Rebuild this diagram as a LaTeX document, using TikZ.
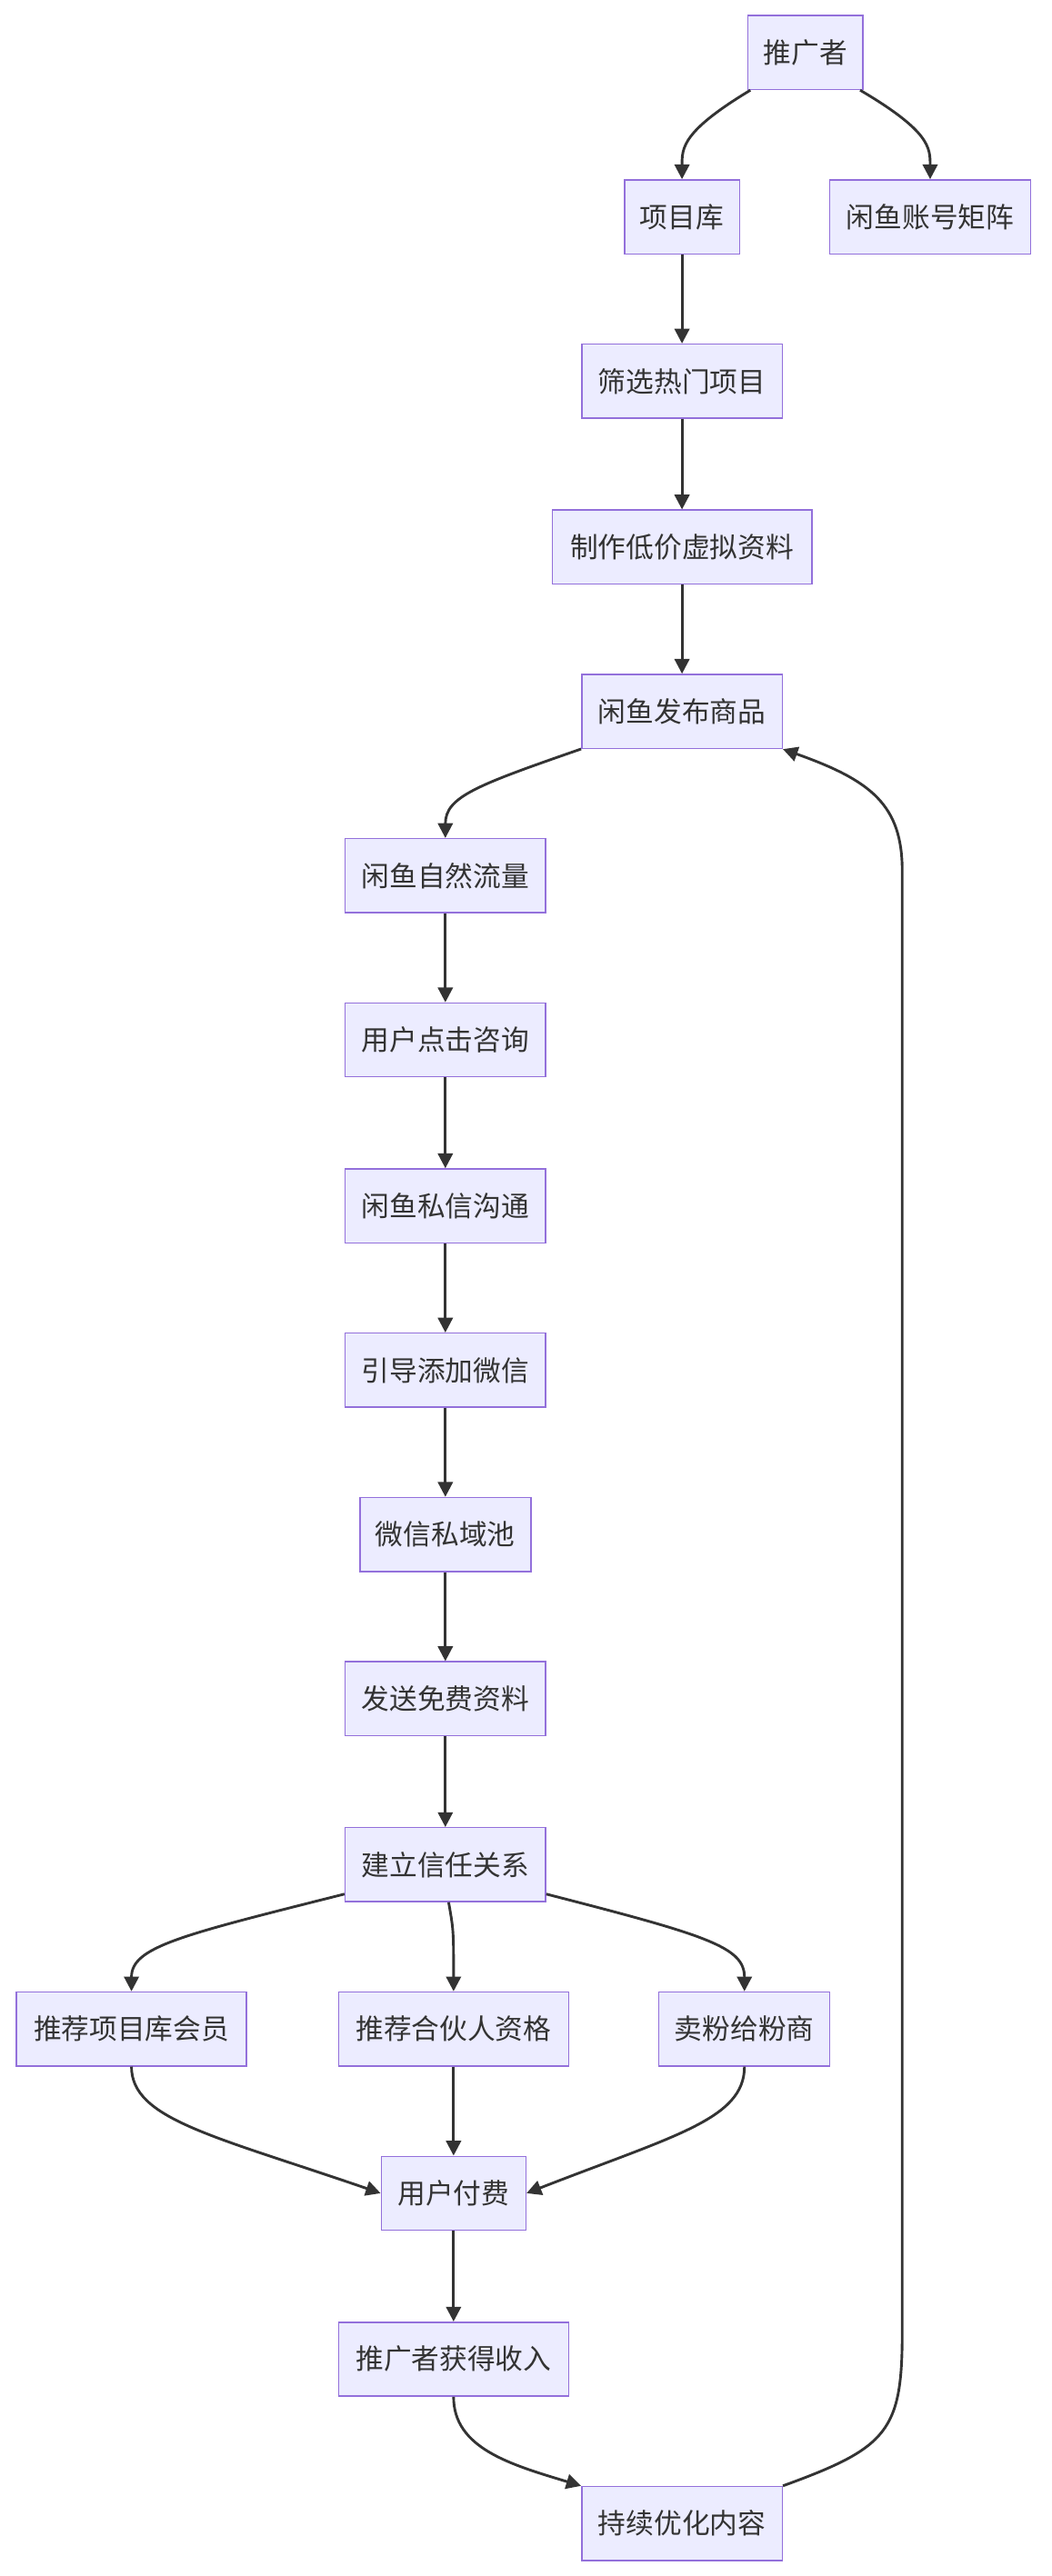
\documentclass[tikz,border=0pt]{standalone}
\usepackage{fontspec}
\newfontfamily\cjk{Noto Sans CJK SC}
\usetikzlibrary{arrows.meta}
\definecolor{nfill}{HTML}{ECECFF}
\definecolor{nline}{HTML}{9370DB}
\definecolor{aline}{HTML}{333333}
\begin{document}
\begin{tikzpicture}[x=1pt,y=-1pt,
  box/.style={draw=nline,fill=nfill,line width=0.8pt,minimum height=45,inner sep=0,font=\cjk\fontsize{17}{19}\selectfont,text=aline},
  arr/.style={draw=aline,line width=1.6pt,-{Triangle[length=9pt,width=9pt]}}]
\useasboundingbox (0,0) rectangle (640,1568);
\node[box,minimum width=70] (a) at (490,32) {推广者};
\node[box,minimum width=70] (b) at (415,132) {项目库};
\node[box,minimum width=122] (c) at (566,132) {闲鱼账号矩阵};
\node[box,minimum width=122] (d) at (415,232) {筛选热门项目};
\node[box,minimum width=158] (e) at (415,333) {制作低价虚拟资料};
\node[box,minimum width=122] (f) at (415,433) {闲鱼发布商品};
\node[box,minimum width=122] (g) at (271,533) {闲鱼自然流量};
\node[box,minimum width=122] (h) at (271,633) {用户点击咨询};
\node[box,minimum width=122] (i) at (271,734) {闲鱼私信沟通};
\node[box,minimum width=122] (j) at (271,834) {引导添加微信};
\node[box,minimum width=104] (k) at (271,934) {微信私域池};
\node[box,minimum width=122] (l) at (271,1034) {发送免费资料};
\node[box,minimum width=122] (m) at (271,1135) {建立信任关系};
\node[box,minimum width=140] (n1) at (80,1235) {推荐项目库会员};
\node[box,minimum width=140] (n2) at (276,1235) {推荐合伙人资格};
\node[box,minimum width=104] (n3) at (453,1235) {卖粉给粉商};
\node[box,minimum width=88] (o) at (276,1335) {用户付费};
\node[box,minimum width=140] (p) at (276,1436) {推广者获得收入};
\node[box,minimum width=122] (q) at (415,1536) {持续优化内容};
\draw[arr] (a.south west) ++(2,0) .. controls (415,80) and (415,90) .. (b.north);
\draw[arr] (a.south east) ++(-2,0) .. controls (566,80) and (566,90) .. (c.north);
\draw[arr] (b) -- (d);
\draw[arr] (d) -- (e);
\draw[arr] (e) -- (f);
\draw[arr] (f.south west) .. controls (290,478) and (271,485) .. (g.north);
\draw[arr] (g) -- (h);
\draw[arr] (h) -- (i);
\draw[arr] (i) -- (j);
\draw[arr] (j) -- (k);
\draw[arr] (k) -- (l);
\draw[arr] (l) -- (m);
\draw[arr] (m.south west) ++(0,-5) .. controls (110,1178) and (80,1185) .. (n1.north);
\draw[arr] (m.south) ++(2,0) .. controls (276,1175) .. (n2.north);
\draw[arr] (m.south east) ++(0,-5) .. controls (430,1178) and (453,1185) .. (n3.north);
\draw[arr] (n1.south) .. controls (80,1290) and (130,1300) .. (o.west);
\draw[arr] (n2) -- (o);
\draw[arr] (n3.south) .. controls (453,1290) and (410,1300) .. (o.east);
\draw[arr] (o) -- (p);
\draw[arr] (p.south) .. controls (276,1490) and (310,1500) .. (q.north west);
\draw[arr] (q.north east) .. controls (540,1490) and (549,1480) .. (549,1420)
  -- (549,530) .. controls (549,490) and (530,475) .. (f.east|-0,456);
\end{tikzpicture}
\end{document}
